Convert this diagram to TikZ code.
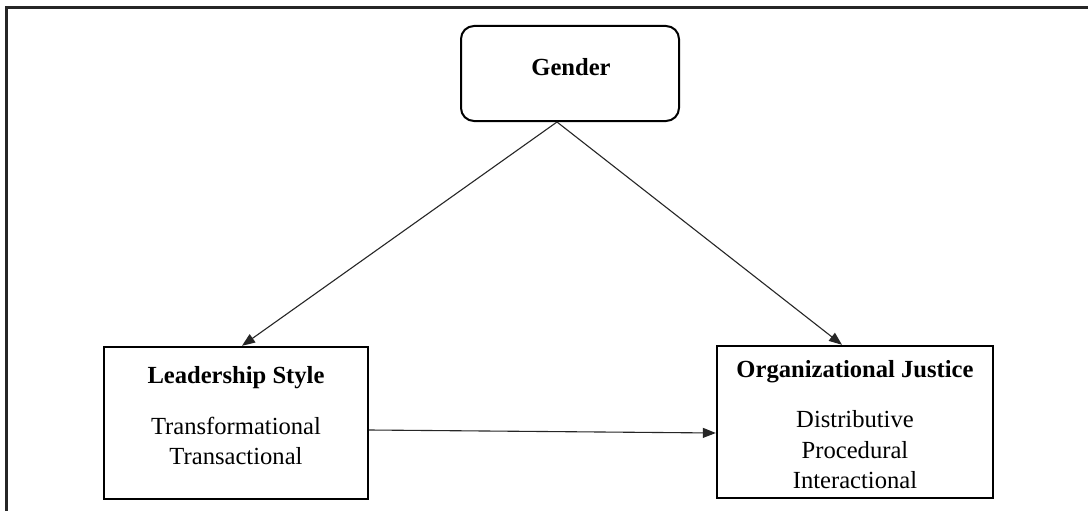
\documentclass[tikz,border=0pt]{standalone}
\usepackage{fontspec}
\setmainfont{Liberation Serif}
\usetikzlibrary{arrows.meta}
\begin{document}
\begin{tikzpicture}[x=1pt,y=-1pt,
  frameline/.style={line width=3pt,draw=black!85},
  varbox/.style={draw=black,line width=2.4pt,rectangle,inner sep=0pt},
  modbox/.style={draw=black,line width=2pt,rectangle,rounded corners=13pt,inner sep=0pt},
  head/.style={font=\fontsize{24.6}{30}\selectfont\bfseries,inner sep=0pt},
  items/.style={font=\fontsize{24.6}{30.5}\selectfont,align=center,inner sep=0pt},
  link/.style={draw=black!85,line width=1.1pt,-{Triangle[length=13pt,width=10pt]}}]
\useasboundingbox (0,0) rectangle (1088,511);
\fill[white] (0,0) rectangle (1088,511);
\coordinate (ftop) at (1088,8);
\coordinate (fcorner) at (6,8);
\coordinate (fbottom) at (6,511);
\draw[frameline] (ftop) -- (fcorner) -- (fbottom);
\node[modbox,minimum width=218pt,minimum height=95pt] (gender) at (570,73.5) {};
\node[varbox,minimum width=264pt,minimum height=152pt] (leader) at (236,423) {};
\node[varbox,minimum width=276pt,minimum height=152pt] (org) at (855,422) {};
\node[head] (tgender) at (571,67) {Gender};
\node[head] (tleader) at (236,378) {Leadership Style};
\node[head] (torg) at (855,372) {Organizational Justice};
\node[items] (ileader) at (236,441) {Transformational\\Transactional};
\node[items] (iorg) at (855,450) {Distributive\\Procedural\\Interactional};
\draw[link] ([xshift=-13pt]gender.south) -- ([xshift=6pt]leader.north);
\draw[link] ([xshift=-13pt]gender.south) -- ([xshift=-13pt]org.north);
\draw[link] ([yshift=-7pt]leader.east) -- ([yshift=-11pt]org.west);
\end{tikzpicture}
\end{document}
